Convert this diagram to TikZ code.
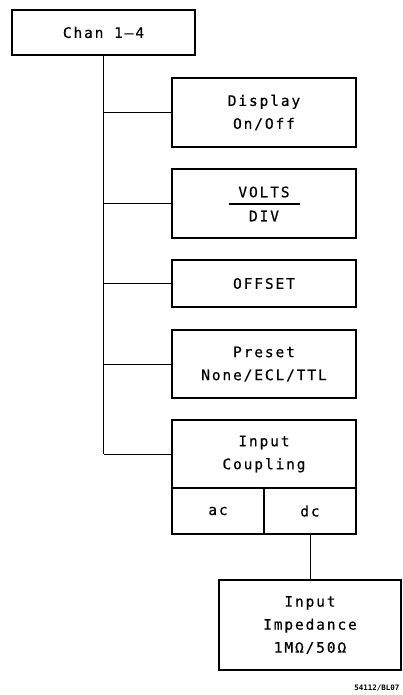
\documentclass[tikz,border=0pt]{standalone}
\usepackage{fontspec}
\newfontfamily\plotfont[LetterSpace=13,FakeBold=0.6]{DejaVu Sans Mono}
\newfontfamily\labfont{DejaVu Sans Mono Bold}
\begin{document}
\begin{tikzpicture}[x=1pt,y=-1pt,
  txt/.style={font=\plotfont\fontsize{14.5}{23}\selectfont},
  box/.style={txt,draw=black,line width=1.8pt,rectangle,inner sep=0pt,align=center},
  conn/.style={draw=black,line width=1pt}]
\useasboundingbox (0,0) rectangle (403,695);
\node[box,minimum width=183pt,minimum height=45pt] (chan) at (103.5,32.5) {Chan 1–4};
\node[box,minimum width=184pt,minimum height=69pt] (disp) at (264,112.5) {Display\\On/Off};
\node[box,minimum width=184pt,minimum height=69pt] (volts) at (264,203.5) {};
\node[txt] (vtop) at (264,192) {VOLTS};
\node[txt] (vbot) at (264,216) {DIV};
\coordinate (bl) at (228.5,204);
\coordinate (br) at (299.5,204);
\draw[line width=1.2pt] (bl) -- (br);
\node[box,minimum width=184pt,minimum height=47pt] (off) at (264,283.5) {OFFSET};
\node[box,minimum width=184pt,minimum height=68pt] (pre) at (264,364) {Preset\\None/ECL/TTL};
\node[box,minimum width=184pt,minimum height=68pt] (inc) at (264,454) {Input\\Coupling};
\node[box,minimum width=92pt,minimum height=46pt] (ac) at (218,511) {ac};
\node[box,minimum width=92pt,minimum height=46pt] (dc) at (310,511) {dc};
\node[box,minimum width=182pt,minimum height=90pt] (imp) at (310,625) {Input\\Impedance\\1MΩ/50Ω};
\coordinate (tend) at (chan.south |- inc.west);
\draw[conn] (chan.south) -- (tend);
\draw[conn] (chan.south |- disp.west) -- (disp.west);
\draw[conn] (chan.south |- volts.west) -- (volts.west);
\draw[conn] (chan.south |- off.west) -- (off.west);
\draw[conn] (chan.south |- pre.west) -- (pre.west);
\draw[conn] (tend) -- (inc.west);
\draw[conn] (dc.south) -- (imp.north);
\node[font=\labfont\fontsize{7.5}{9}\selectfont,anchor=east] (lab) at (403,688) {54112/BL07};
\end{tikzpicture}
\end{document}
